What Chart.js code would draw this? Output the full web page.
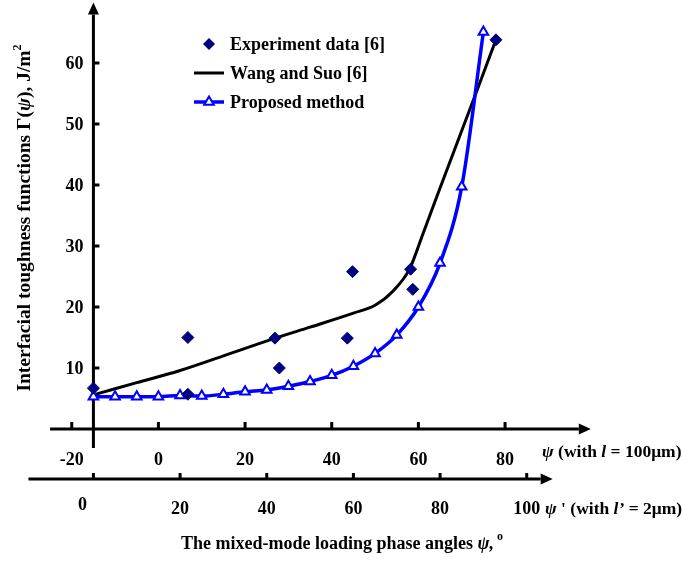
<!DOCTYPE html>
<html>
<head>
<meta charset="utf-8">
<script src="https://cdn.jsdelivr.net/npm/chart.js"></script>
<style>
  html, body { margin: 0; padding: 0; background: #fff; }
  #wrap { width: 683px; height: 562px; position: relative; }
</style>
</head>
<body>
<div id="wrap"><canvas id="toughnessChart"></canvas></div>
<script>
// values: psi in degrees, Gamma in J/m^2
const expPsi = [-15, 6.8, 6.8, 26.9, 27.9, 43.6, 44.8, 58.2, 58.7, 77.9];
const expGamma = [6.7, 15.0, 5.7, 14.9, 10.0, 14.9, 25.8, 26.2, 22.9, 63.8];

const wangPsi = [-15, -5, 5, 15, 27, 35, 45, 50, 54, 58, 61, 65, 70, 74, 78];
const wangGamma = [5.6, 7.6, 9.6, 12.0, 14.9, 16.7, 19.0, 20.3, 22.5, 26.3, 31.9, 39.5, 48.9, 56.4, 64.0];

const propPsi = [-15, -10, -5, 0, 5, 10, 15, 20, 25, 30, 35, 40, 45, 50, 55, 60, 65, 70, 75];
const propGamma = [5.3, 5.3, 5.3, 5.3, 5.5, 5.4, 5.7, 6.1, 6.4, 7.0, 7.8, 8.8, 10.3, 12.4, 15.4, 20.0, 27.2, 39.7, 65.1];

const psiTicks = [-20, 0, 20, 40, 60, 80];
const psiPrimeTicks = [0, 20, 40, 60, 80, 100];
const gammaTicks = [10, 20, 30, 40, 50, 60];
const psiShift = 15; // psi' = psi + 15, the y axis sits at psi = -15

const FONT = '"Liberation Serif", "Times New Roman", serif';

const toPoints = (xs, ys) => xs.map((x, i) => ({ x: x, y: ys[i] }));

function runFont(r) {
    const size = r.sup ? 12 : (r.size || 18);
    return (r.italic ? 'italic ' : '') + 'bold ' + size + 'px ' + FONT;
}

// draws a line of mixed text (italic / superscript pieces)
function drawRuns(ctx, runs, x, y, align) {
    let total = 0;
    runs.forEach(r => {
        ctx.font = runFont(r);
        r.w = ctx.measureText(r.text).width;
        total += r.w;
    });
    let cx = align === 'center' ? x - total / 2 : x;
    ctx.textAlign = 'left';
    ctx.textBaseline = 'middle';
    runs.forEach(r => {
        ctx.font = runFont(r);
        ctx.fillText(r.text, cx, y + (r.sup ? -7 : 0));
        cx += r.w;
    });
}

function arrowLine(ctx, x1, y1, x2, y2) {
    const ang = Math.atan2(y2 - y1, x2 - x1);
    const len = 12, half = 5.5;
    ctx.beginPath();
    ctx.moveTo(x1, y1);
    ctx.lineTo(x2 - Math.cos(ang) * len, y2 - Math.sin(ang) * len);
    ctx.stroke();
    ctx.beginPath();
    ctx.moveTo(x2, y2);
    ctx.lineTo(x2 - Math.cos(ang) * len - Math.sin(ang) * half, y2 - Math.sin(ang) * len + Math.cos(ang) * half);
    ctx.lineTo(x2 - Math.cos(ang) * len + Math.sin(ang) * half, y2 - Math.sin(ang) * len - Math.cos(ang) * half);
    ctx.closePath();
    ctx.fill();
}

const axesPlugin = {
    id: 'crossAxes',
    beforeDatasetsDraw(chart) {
        const ctx = chart.ctx;
        const { x, x2, y } = chart.scales;
        ctx.save();
        ctx.strokeStyle = '#000';
        ctx.fillStyle = '#000';
        ctx.lineWidth = 3;

        const yAxisX = x.getPixelForValue(-15);
        const psiY = y.getPixelForValue(0);
        const psiPrimeY = y.getPixelForValue(-8.2);

        // vertical axis
        arrowLine(ctx, yAxisX, y.getPixelForValue(-3.1), yAxisX, y.getPixelForValue(69.9));
        // psi axis
        arrowLine(ctx, x.getPixelForValue(-25), psiY, x.getPixelForValue(99.8), psiY);
        // psi' axis
        arrowLine(ctx, x2.getPixelForValue(-15), psiPrimeY, x2.getPixelForValue(106), psiPrimeY);

        ctx.beginPath();
        gammaTicks.forEach(v => {
            const py = y.getPixelForValue(v);
            ctx.moveTo(yAxisX, py);
            ctx.lineTo(yAxisX + 6, py);
        });
        psiTicks.forEach(v => {
            const px = x.getPixelForValue(v);
            ctx.moveTo(px, psiY);
            ctx.lineTo(px, psiY - 7);
        });
        psiPrimeTicks.forEach(v => {
            const px = x2.getPixelForValue(v);
            ctx.moveTo(px, psiPrimeY);
            ctx.lineTo(px, psiPrimeY - 6);
        });
        ctx.stroke();

        // tick labels
        ctx.font = 'bold 18px ' + FONT;
        ctx.textBaseline = 'middle';
        ctx.textAlign = 'right';
        gammaTicks.forEach(v => ctx.fillText(String(v), yAxisX - 10, y.getPixelForValue(v) + 1));
        ctx.textAlign = 'center';
        psiTicks.forEach(v => ctx.fillText(String(v), x.getPixelForValue(v), psiY + 31));
        psiPrimeTicks.forEach((v, i) => {
            const dx = i === 0 ? -11 : 0;
            const dy = i === 0 ? -4 : 0;
            ctx.fillText(String(v), x2.getPixelForValue(v) + dx, psiPrimeY + 30 + dy);
        });
        ctx.restore();
    },
    afterDraw(chart) {
        const ctx = chart.ctx;
        ctx.save();
        ctx.fillStyle = '#000';

        // axis names on the right
        drawRuns(ctx, [
            { text: 'ψ', italic: true, size: 17.5 },
            { text: ' (with ', size: 17.5 },
            { text: 'l', italic: true, size: 17.5 },
            { text: ' = 100μm)', size: 17.5 }
        ], 542, 452, 'left');
        drawRuns(ctx, [
            { text: 'ψ', italic: true, size: 17.5 },
            { text: ' \' (with ', size: 17.5 },
            { text: 'l’', italic: true, size: 17.5 },
            { text: ' = 2μm)', size: 17.5 }
        ], 545, 509, 'left');

        // bottom title
        drawRuns(ctx, [
            { text: 'The mixed-mode loading phase angles ' },
            { text: 'ψ,', italic: true },
            { text: ' o', sup: true }
        ], 342, 544, 'center');

        // vertical title
        ctx.save();
        ctx.translate(25, 218);
        ctx.rotate(-Math.PI / 2);
        drawRuns(ctx, [
            { text: 'Interfacial toughness functions Γ(', size: 19.5 },
            { text: 'ψ', italic: true, size: 19.5 },
            { text: '), J/m', size: 19.5 },
            { text: '2', sup: true }
        ], 0, 0, 'center');
        ctx.restore();

        // legend
        const lx = 194, mx = 209, tx = 230;
        ctx.fillStyle = '#000080';
        ctx.beginPath();
        ctx.moveTo(mx, 44 - 6);
        ctx.lineTo(mx + 6, 44);
        ctx.lineTo(mx, 44 + 6);
        ctx.lineTo(mx - 6, 44);
        ctx.closePath();
        ctx.fill();

        ctx.lineWidth = 3;
        ctx.strokeStyle = '#000';
        ctx.beginPath();
        ctx.moveTo(lx, 73);
        ctx.lineTo(lx + 30, 73);
        ctx.stroke();

        ctx.strokeStyle = '#0000FF';
        ctx.lineWidth = 3.5;
        ctx.beginPath();
        ctx.moveTo(lx, 102);
        ctx.lineTo(lx + 30, 102);
        ctx.stroke();
        ctx.lineWidth = 2;
        ctx.fillStyle = '#fff';
        ctx.beginPath();
        ctx.moveTo(mx, 102 - 5.5);
        ctx.lineTo(mx + 4.8, 102 + 2.8);
        ctx.lineTo(mx - 4.8, 102 + 2.8);
        ctx.closePath();
        ctx.fill();
        ctx.stroke();

        ctx.fillStyle = '#000';
        drawRuns(ctx, [{ text: 'Experiment data [6]' }], tx, 45, 'left');
        drawRuns(ctx, [{ text: 'Wang and Suo [6]' }], tx, 74, 'left');
        drawRuns(ctx, [{ text: 'Proposed method' }], tx, 103, 'left');
        ctx.restore();
    }
};

const config = {
    type: 'line',
    data: {
        datasets: [{
            label: 'Experiment data [6]',
            data: toPoints(expPsi, expGamma),
            showLine: false,
            pointStyle: 'rectRot',
            pointRadius: 6,
            pointBackgroundColor: '#000080',
            pointBorderColor: '#000080',
            pointBorderWidth: 1
        }, {
            label: 'Proposed method',
            data: toPoints(propPsi, propGamma),
            borderColor: '#0000FF',
            borderWidth: 3.5,
            cubicInterpolationMode: 'monotone',
            pointStyle: 'triangle',
            pointRadius: 5.5,
            pointBackgroundColor: '#fff',
            pointBorderColor: '#0000FF',
            pointBorderWidth: 2,
            fill: false
        }, {
            label: 'Wang and Suo [6]',
            data: toPoints(wangPsi, wangGamma),
            borderColor: '#000',
            borderWidth: 3,
            cubicInterpolationMode: 'monotone',
            pointRadius: 0,
            fill: false
        }]
    },
    options: {
        responsive: true,
        maintainAspectRatio: false,
        animation: false,
        layout: { padding: 0, autoPadding: false },
        plugins: {
            legend: { display: false },
            tooltip: { enabled: false }
        },
        scales: {
            x: {
                type: 'linear',
                display: false,
                min: -36.56,
                max: 121.07
            },
            x2: {
                type: 'linear',
                axis: 'x',
                display: false,
                min: -36.56 + psiShift,
                max: 121.07 + psiShift
            },
            y: {
                type: 'linear',
                display: false,
                min: -21.8,
                max: 70.33
            }
        }
    },
    plugins: [axesPlugin]
};

const toughnessChart = new Chart(document.getElementById('toughnessChart'), config);
</script>
</body>
</html>
